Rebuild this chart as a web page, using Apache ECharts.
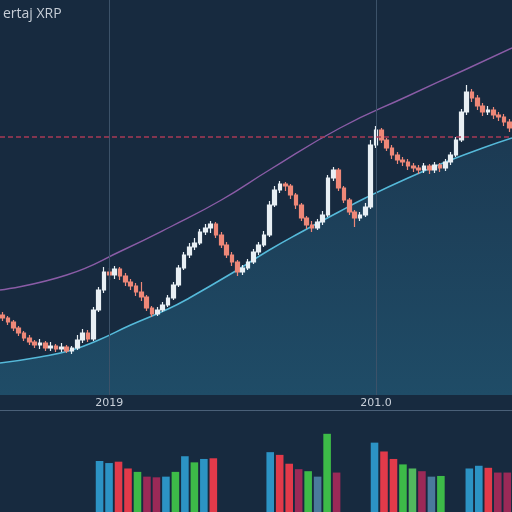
<!DOCTYPE html>
<html>
<head>
<meta charset="utf-8">
<script src="https://cdn.jsdelivr.net/npm/echarts@6.0.0/dist/echarts.min.js"></script>
<style>
  html, body { margin: 0; padding: 0; background: #172a3f; }
  #main { width: 512px; height: 512px; }
</style>
</head>
<body>
<div id="main"></div>
<script>
// price candles: [open, close, low, high]
const candles = [
  [0.80, 0.77, 0.74, 0.83], [0.77, 0.73, 0.70, 0.79], [0.73, 0.67, 0.64, 0.75], [0.67, 0.62, 0.59, 0.69],
  [0.62, 0.57, 0.54, 0.64], [0.57, 0.53, 0.50, 0.60], [0.53, 0.50, 0.47, 0.55], [0.50, 0.52, 0.46, 0.56],
  [0.52, 0.47, 0.44, 0.54], [0.47, 0.49, 0.44, 0.53], [0.49, 0.46, 0.43, 0.51], [0.46, 0.48, 0.43, 0.52],
  [0.48, 0.44, 0.42, 0.50], [0.44, 0.47, 0.41, 0.49], [0.47, 0.55, 0.45, 0.60], [0.55, 0.62, 0.52, 0.66],
  [0.62, 0.56, 0.53, 0.65], [0.56, 0.85, 0.54, 0.88], [0.85, 1.05, 0.83, 1.08], [1.05, 1.23, 1.02, 1.28],
  [1.23, 1.20, 1.15, 1.27], [1.20, 1.26, 1.16, 1.29], [1.26, 1.19, 1.15, 1.28], [1.19, 1.13, 1.09, 1.22],
  [1.13, 1.09, 1.05, 1.16], [1.09, 1.03, 0.99, 1.12], [1.03, 0.98, 0.94, 1.13], [0.98, 0.87, 0.84, 1.00],
  [0.87, 0.81, 0.78, 0.89], [0.81, 0.85, 0.79, 0.88], [0.85, 0.90, 0.83, 0.93], [0.90, 0.97, 0.88, 1.00],
  [0.97, 1.10, 0.95, 1.13], [1.10, 1.27, 1.08, 1.30], [1.27, 1.40, 1.25, 1.43], [1.40, 1.48, 1.37, 1.52],
  [1.48, 1.52, 1.45, 1.57], [1.52, 1.63, 1.50, 1.66], [1.63, 1.67, 1.60, 1.71], [1.67, 1.71, 1.62, 1.74],
  [1.71, 1.60, 1.57, 1.73], [1.60, 1.50, 1.47, 1.63], [1.50, 1.40, 1.37, 1.53], [1.40, 1.33, 1.29, 1.43],
  [1.33, 1.23, 1.19, 1.35], [1.23, 1.27, 1.20, 1.30], [1.27, 1.33, 1.25, 1.36], [1.33, 1.43, 1.31, 1.46],
  [1.43, 1.50, 1.40, 1.53], [1.50, 1.60, 1.48, 1.64], [1.60, 1.90, 1.58, 1.94], [1.90, 2.05, 1.88, 2.09],
  [2.05, 2.11, 2.02, 2.14], [2.11, 2.09, 2.04, 2.13], [2.09, 2.00, 1.96, 2.11], [2.00, 1.90, 1.86, 2.02],
  [1.90, 1.77, 1.74, 1.92], [1.77, 1.70, 1.66, 1.79], [1.70, 1.67, 1.63, 1.74], [1.67, 1.73, 1.65, 1.76],
  [1.73, 1.80, 1.70, 1.84], [1.80, 2.17, 1.78, 2.20], [2.17, 2.25, 2.14, 2.28], [2.25, 2.07, 2.04, 2.27],
  [2.07, 1.95, 1.92, 2.09], [1.95, 1.83, 1.80, 1.97], [1.83, 1.77, 1.68, 1.85], [1.77, 1.80, 1.74, 1.83],
  [1.80, 1.88, 1.78, 1.92], [1.88, 2.50, 1.86, 2.55], [2.50, 2.65, 2.47, 2.69], [2.65, 2.55, 2.52, 2.67],
  [2.55, 2.47, 2.44, 2.57], [2.47, 2.40, 2.36, 2.50], [2.40, 2.35, 2.31, 2.43], [2.35, 2.33, 2.29, 2.38],
  [2.33, 2.29, 2.25, 2.36], [2.29, 2.27, 2.23, 2.32], [2.27, 2.25, 2.21, 2.30], [2.25, 2.29, 2.22, 2.32],
  [2.29, 2.25, 2.21, 2.31], [2.25, 2.30, 2.22, 2.33], [2.30, 2.27, 2.23, 2.32], [2.27, 2.33, 2.24, 2.36],
  [2.33, 2.40, 2.30, 2.43], [2.40, 2.55, 2.38, 2.58], [2.55, 2.83, 2.53, 2.86], [2.83, 3.03, 2.80, 3.10],
  [3.03, 2.97, 2.93, 3.06], [2.97, 2.89, 2.85, 3.00], [2.89, 2.83, 2.79, 2.92], [2.83, 2.85, 2.80, 2.89],
  [2.85, 2.80, 2.76, 2.88], [2.80, 2.78, 2.74, 2.83], [2.78, 2.73, 2.69, 2.81], [2.73, 2.67, 2.63, 2.76]
];

// moving averages as [candle index, price]
const maFast = [
  [-0.5, 0.32], [7, 0.38], [13, 0.45], [18, 0.55], [24, 0.70], [31, 0.86], [35, 0.97], [44, 1.25],
  [50, 1.45], [56, 1.63], [63, 1.83], [68, 1.97], [76, 2.17], [84, 2.35], [90, 2.47], [95.5, 2.57]
];
const maSlow = [
  [-0.5, 1.05], [12, 1.20], [22.6, 1.45], [31.4, 1.68], [41, 1.95], [50, 2.25], [63.25, 2.67],
  [76, 2.99], [87, 3.26], [95.5, 3.47]
];
const resistance = 2.58;

const tickLabels = { 20: '2019', 70: '201.0' };
const categories = candles.map((_, i) => String(i));

// volume per slot (54 slots), null = no bar
const volumes = [
  null, null, null, null, null, null, null, null, null, null,
  75, 72, 74, 64, 59, 52, 51, 52, 59, 82, 73, 78, 79,
  null, null, null, null, null,
  88, 84, 71, 63, 60, 52, 115, 58,
  null, null, null,
  102, 89, 78, 70, 64, 60, 52, 53,
  null, null,
  64, 68, 65, 58, 58
];
const volumeKinds = [
  '', '', '', '', '', '', '', '', '', '',
  'b', 'b', 'r', 'r', 'g', 'm', 'm', 'b', 'g', 'b', 'g', 'b', 'r',
  '', '', '', '', '',
  'b', 'r', 'r', 'm', 'g', 's', 'g', 'm',
  '', '', '',
  'b', 'r', 'r', 'g', 'l', 'm', 's', 'g',
  '', '',
  'b', 'b', 'r', 'm', 'm'
];
const volumeSlots = volumes.map((_, i) => String(i));

const palette = { b: '#2c93c4', r: '#e23a4a', g: '#3dbb48', l: '#52b85e', m: '#9b2957', s: '#4a7a9c' };

const chart = echarts.init(document.getElementById('main'));

chart.setOption({
  backgroundColor: '#172a3f',
  animation: false,
  title: {
    text: 'ertaj XRP',
    left: -2,
    top: 2,
    textStyle: { color: '#c6cdd6', fontSize: 14, fontWeight: 'normal', fontFamily: 'Open Sans' }
  },
  grid: [
    { left: 0, right: 0, top: 0, height: 395 },
    { left: 0, right: 0, top: 410, height: 150 }
  ],
  xAxis: [
    {
      type: 'category', gridIndex: 0, data: categories,
      axisLine: { show: false }, axisTick: { show: false }, splitLine: { show: false },
      axisLabel: {
        color: '#c8d0da', fontSize: 11, margin: 3, fontFamily: 'DejaVu Sans',
        interval: (i) => tickLabels[i] !== undefined,
        formatter: (v, i) => tickLabels[i] || ''
      }
    },
    {
      type: 'value', gridIndex: 0, min: -0.5, max: 95.5, show: false
    },
    {
      type: 'category', gridIndex: 1, data: volumeSlots, position: 'top',
      axisLine: { show: true, onZero: false, lineStyle: { color: '#4a6078', width: 1 } },
      axisTick: { show: false }, axisLabel: { show: false }, splitLine: { show: false }
    }
  ],
  yAxis: [
    { type: 'value', gridIndex: 0, min: 0, max: 3.95, show: false },
    { type: 'value', gridIndex: 1, min: 0, max: 150, show: false }
  ],
  series: [
    {
      type: 'line', xAxisIndex: 1, yAxisIndex: 0, data: maFast, smooth: true, symbol: 'none',
      lineStyle: { color: '#55b9d9', width: 1.6 },
      areaStyle: {
        color: new echarts.graphic.LinearGradient(0, 0, 0, 1, [
          { offset: 0, color: '#1c3a53' },
          { offset: 1, color: '#1f4c67' }
        ]),
        opacity: 1
      },
      z: 1
    },
    {
      type: 'line', xAxisIndex: 1, yAxisIndex: 0, data: maSlow, smooth: true, symbol: 'none',
      lineStyle: { color: '#8a5ca6', width: 1.4 },
      z: 2
    },
    {
      type: 'candlestick', xAxisIndex: 0, yAxisIndex: 0, data: candles,
      barWidth: '78%',
      itemStyle: {
        color: '#e8eff4', borderColor: '#e8eff4',
        color0: '#ee8878', borderColor0: '#ee8878', borderWidth: 1.2
      },
      markLine: {
        silent: true, symbol: 'none', label: { show: false },
        data: [
          { xAxis: 20, lineStyle: { color: '#3c5269', type: 'solid', width: 1 } },
          { xAxis: 70, lineStyle: { color: '#3c5269', type: 'solid', width: 1 } },
          { yAxis: resistance, lineStyle: { color: '#a83a55', type: [5, 3], width: 1.5 } }
        ]
      },
      z: 3
    },
    {
      type: 'bar', xAxisIndex: 2, yAxisIndex: 1, data: volumes.map((v, i) => ({
        value: v, itemStyle: { color: palette[volumeKinds[i]] || '#2c93c4' }
      })),
      barWidth: '80%'
    }
  ]
});
</script>
</body>
</html>
